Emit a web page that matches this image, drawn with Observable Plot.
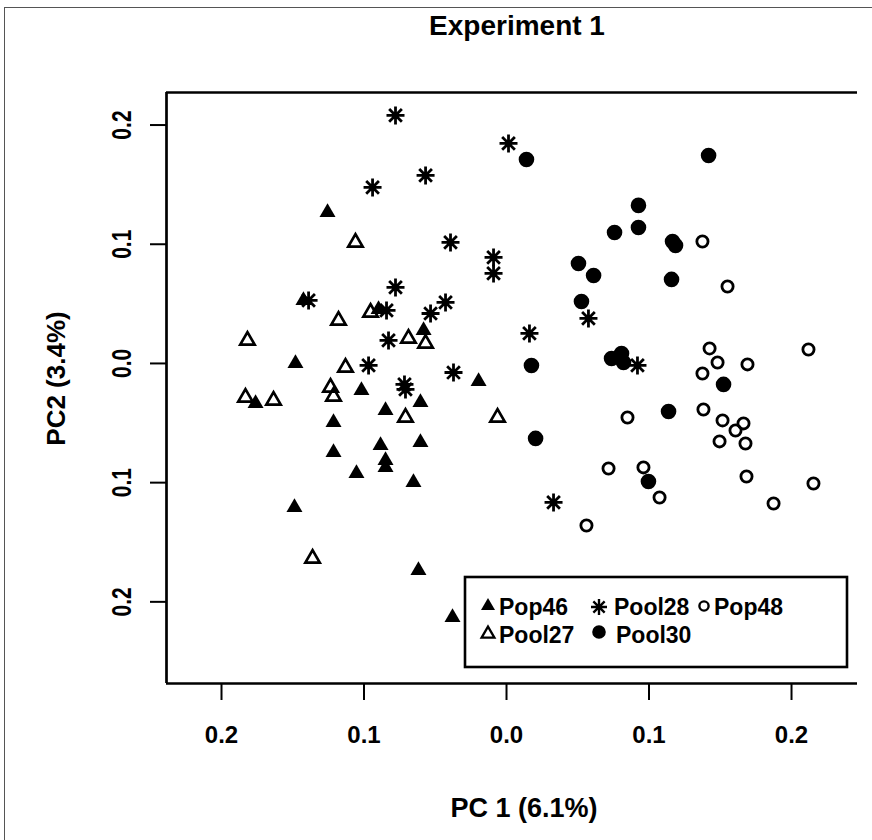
<!DOCTYPE html>
<html><head><meta charset="utf-8">
<script src="https://cdn.jsdelivr.net/npm/d3@7"></script>
<script src="https://cdn.jsdelivr.net/npm/@observablehq/plot@0.6"></script>
<style>
html,body{margin:0;padding:0;background:#fff;overflow:hidden;}
#wrap{position:relative;width:872px;height:840px;overflow:hidden;background:#fff;}
#border{position:absolute;left:4px;top:7px;width:1000px;height:1000px;border-left:1.5px solid #555;border-top:1.5px solid #555;}
#chart{position:absolute;left:0;top:0;}
</style></head><body>
<div id="wrap"><div id="border"></div><div id="chart"></div></div>
<script>
// ---- data ----
const titleText = "Experiment 1";
const xLabel = "PC 1 (6.1%)";
const yLabel = "PC2 (3.4%)";
const seriesNames = ["Pop46", "Pool27", "Pool28", "Pool30", "Pop48"];

const pop46X = [-0.1256,-0.1425,-0.0898,-0.0582,-0.1481,-0.0196,-0.1761,-0.1018,-0.0604,-0.0849,-0.1214,-0.0604,-0.0884,-0.1214,-0.0849,-0.0849,-0.1053,-0.0653,-0.1488,-0.0618,-0.0379];
const pop46Y = [0.1267,0.0529,0.0453,0.0277,0.0000,-0.0151,-0.0336,-0.0227,-0.0327,-0.0394,-0.0495,-0.0663,-0.0688,-0.0747,-0.0814,-0.0872,-0.0923,-0.0998,-0.1208,-0.1737,-0.2131];

const pool27X = [-0.1060,-0.1179,-0.0954,-0.0688,-0.0568,-0.1818,-0.1130,-0.1832,-0.1635,-0.1235,-0.1214,-0.0709,-0.0063,-0.1361];
const pool27Y = [0.1015,0.0361,0.0428,0.0210,0.0168,0.0193,-0.0034,-0.0285,-0.0310,-0.0201,-0.0277,-0.0453,-0.0453,-0.1636];

const pool28X = [-0.0779,0.0014,-0.0568,-0.0940,-0.0393,-0.0091,-0.0091,-0.0779,-0.1389,-0.0842,-0.0428,-0.0533,-0.0828,-0.0968,-0.0372,-0.0716,-0.0709,0.0161,0.0575,0.0919,0.0330];
const pool28Y = [0.2081,0.1846,0.1577,0.1477,0.1015,0.0889,0.0755,0.0638,0.0529,0.0445,0.0512,0.0419,0.0193,-0.0017,-0.0076,-0.0176,-0.0218,0.0252,0.0378,-0.0017,-0.1166];

const pool30X = [0.0140,0.1418,0.0926,0.0926,0.0758,0.1165,0.1186,0.0505,0.0611,0.1158,0.0526,0.0175,0.0737,0.0807,0.0821,0.1523,0.1137,0.0204,0.0996];
const pool30Y = [0.1711,0.1745,0.1326,0.1141,0.1099,0.1023,0.0990,0.0839,0.0738,0.0705,0.0520,-0.0017,0.0042,0.0084,0.0008,-0.0176,-0.0403,-0.0629,-0.0990];

const pop48X = [0.1375,0.1551,0.1425,0.1481,0.1375,0.1691,0.2119,0.0849,0.1382,0.1516,0.1663,0.1607,0.1495,0.1677,0.0716,0.0961,0.1074,0.1684,0.2154,0.1874,0.0561];
const pop48Y = [0.1023,0.0646,0.0126,0.0008,-0.0084,-0.0008,0.0117,-0.0453,-0.0386,-0.0478,-0.0503,-0.0562,-0.0654,-0.0671,-0.0881,-0.0872,-0.1124,-0.0948,-0.1007,-0.1175,-0.1359];

const xTicks = [-0.2, -0.1, 0, 0.1, 0.2];
const yTicks = [-0.2, -0.1, 0, 0.1, 0.2];
const xTickLabels = ["0.2", "0.1", "0.0", "0.1", "0.2"];
const yTickLabels = ["0.2", "0.1", "0.0", "0.1", "0.2"];
const xDomain = [-0.2386, 0.2463];
const yDomain = [-0.2685, 0.2273];

// ---- symbols (R-like pch shapes) ----
const triSym = {draw(ctx, size){ const r = Math.sqrt(size/Math.PI); ctx.moveTo(0,-1.155*r); ctx.lineTo(r,0.577*r); ctx.lineTo(-r,0.577*r); ctx.closePath(); }};
const circSym = {draw(ctx, size){ const r = Math.sqrt(size/Math.PI); ctx.moveTo(r,0); ctx.arc(0,0,r,0,2*Math.PI); ctx.closePath(); }};
const astSym = {draw(ctx, size){ const r = Math.sqrt(size/Math.PI); for (let k=0;k<4;k++){ const a=k*Math.PI/4, c=Math.cos(a)*r, s=Math.sin(a)*r; ctx.moveTo(-c,-s); ctx.lineTo(c,s);} }};

const styles = {
  Pop46:  {symbol: triSym,  r: 8,   fill: "black", stroke: "none"},
  Pool27: {symbol: triSym,  r: 7.2, fill: "none",  stroke: "black", strokeWidth: 2.7},
  Pool28: {symbol: astSym,  r: 9,   fill: "none",  stroke: "black", strokeWidth: 2.8},
  Pool30: {symbol: circSym, r: 7.8, fill: "black", stroke: "none"},
  Pop48:  {symbol: circSym, r: 5.6, fill: "none",  stroke: "black", strokeWidth: 2.8}
};

const FONT = "Liberation Sans, Arial, sans-serif";
const fmtX = d => xTickLabels[xTicks.findIndex(t => Math.abs(t - d) < 1e-9)];
const fmtY = d => yTickLabels[yTicks.findIndex(t => Math.abs(t - d) < 1e-9)];

const chart = Plot.plot({
  width: 872, height: 840,
  marginLeft: 166, marginRight: 15, marginTop: 92, marginBottom: 157,
  x: {domain: xDomain},
  y: {domain: yDomain},
  style: {fontFamily: FONT, fontWeight: "bold", background: "transparent", color: "black", overflow: "visible"},
  marks: [
    Plot.ruleY([yDomain[0], yDomain[1]], {stroke: "black", strokeWidth: 2.7}),
    Plot.ruleX([xDomain[0]], {stroke: "black", strokeWidth: 2.7}),
    Plot.axisX(xTicks, {anchor: "bottom", tickSize: 17, tickPadding: 25, tickFormat: fmtX, fontSize: 24, fontWeight: "bold", strokeWidth: 2, label: null}),
    Plot.axisY(yTicks, {anchor: "left", tickSize: 16, tickPadding: 20, tickRotate: -90, textAnchor: "middle", lineAnchor: "bottom", tickFormat: fmtY, fontSize: 21, fontWeight: "bold", strokeWidth: 2, label: null}),
    Plot.dot(pop46X,  {x: pop46X,  y: pop46Y,  ...styles.Pop46}),
    Plot.dot(pool27X, {x: pool27X, y: pool27Y, ...styles.Pool27}),
    Plot.dot(pool28X, {x: pool28X, y: pool28Y, ...styles.Pool28}),
    Plot.dot(pool30X, {x: pool30X, y: pool30Y, ...styles.Pool30}),
    Plot.dot(pop48X,  {x: pop48X,  y: pop48Y,  ...styles.Pop48})
  ]
});
document.getElementById("chart").appendChild(chart);

const svg = d3.select(chart);
// stretch rotated y tick labels across (as in the reference raster)
svg.selectAll("g[aria-label='y-axis tick label'] text").each(function(){
  const tl = this.transform.baseVal.consolidate();
  if (tl) {
    const m = tl.matrix.scaleNonUniform(1, 1.35);
    this.setAttribute("transform", `matrix(${m.a},${m.b},${m.c},${m.d},${m.e},${m.f})`);
  }
});

svg.append("text").attr("x", 517).attr("y", 35).attr("text-anchor", "middle")
  .attr("font-family", FONT).attr("font-weight", "bold").attr("font-size", 28).attr("fill", "black").text(titleText);
svg.append("text").attr("x", 524).attr("y", 817).attr("text-anchor", "middle")
  .attr("font-family", FONT).attr("font-weight", "bold").attr("font-size", 27).attr("fill", "black").text(xLabel);
svg.append("text").attr("transform", "translate(65,378.5) rotate(-90)").attr("text-anchor", "middle")
  .attr("font-family", FONT).attr("font-weight", "bold").attr("font-size", 26).attr("fill", "black").text(yLabel);

// legend box inside plot
const lg = svg.append("g");
lg.append("rect").attr("x", 465).attr("y", 577).attr("width", 382).attr("height", 90)
  .attr("fill", "white").attr("stroke", "black").attr("stroke-width", 2.6);
const legendItems = [
  {name: "Pop46",  sx: 488, sy: 606, tx: 499, ty: 615, r: 7},
  {name: "Pool28", sx: 599, sy: 607, tx: 614, ty: 615, r: 8},
  {name: "Pop48",  sx: 704, sy: 606, tx: 714, ty: 615, r: 4.6},
  {name: "Pool27", sx: 488, sy: 634, tx: 499, ty: 643, r: 6.4},
  {name: "Pool30", sx: 599, sy: 632, tx: 616, ty: 643, r: 6.8}
];
for (const it of legendItems) {
  const st = styles[it.name];
  lg.append("path")
    .attr("transform", `translate(${it.sx},${it.sy})`)
    .attr("d", d3.symbol(st.symbol, it.r * it.r * Math.PI)())
    .attr("fill", st.fill).attr("stroke", st.stroke === "none" ? null : st.stroke)
    .attr("stroke-width", st.strokeWidth ? st.strokeWidth * 0.85 : null);
  lg.append("text").attr("x", it.tx).attr("y", it.ty).attr("text-anchor", "start")
    .attr("font-family", FONT).attr("font-weight", "bold").attr("font-size", 23).attr("fill", "black").text(it.name);
}
</script>
</body></html>
